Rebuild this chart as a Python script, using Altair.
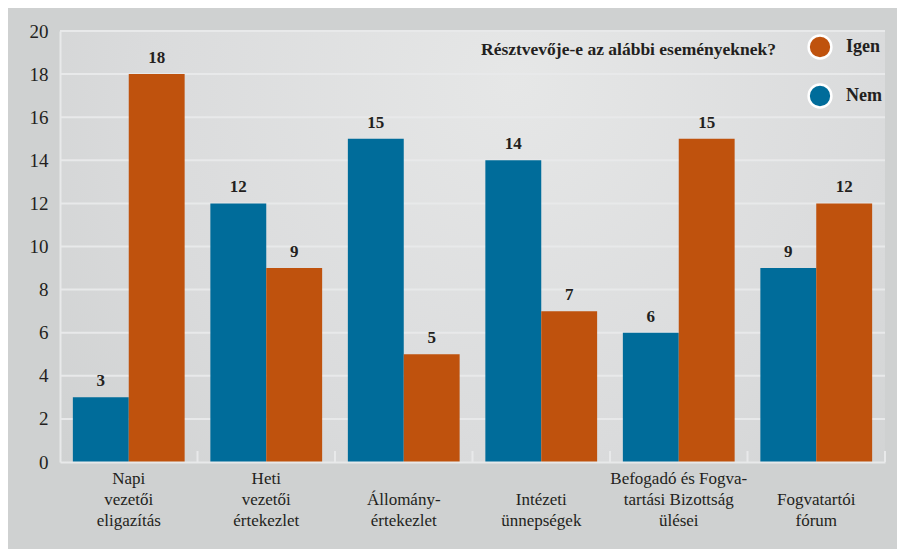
import altair as alt
import pandas as pd

categories = [
    "Napi|vezetői|eligazítás",
    "Heti|vezetői|értekezlet",
    "Állomány-|értekezlet",
    "Intézeti|ünnepségek",
    "Befogadó és Fogva-|tartási Bizottság|ülései",
    "Fogvatartói|fórum",
]
nem = [3, 12, 15, 14, 6, 9]
igen = [18, 9, 5, 7, 15, 12]
answers = ["Nem", "Igen"]
y_ticks = [0, 2, 4, 6, 8, 10, 12, 14, 16, 18, 20]

BLUE = "#006C9A"
ORANGE = "#BF520D"
GRID = "#e8e9ea"
TEXT = "#231f20"
FONT = "Liberation Serif"

rows = []
for c, n, i in zip(categories, nem, igen):
    rows.append({"cat": c, "answer": "Nem", "value": n})
    rows.append({"cat": c, "answer": "Igen", "value": i})
df = pd.DataFrame(rows)
cat_df = pd.DataFrame({"cat": categories})
grid_df = pd.DataFrame({"v": y_ticks[1:]})

x_axis = alt.Axis(
    title=None, labelAngle=0, ticks=False,
    labelExpr="length(split(datum.label, '|')) < 3 ? split('|' + datum.label, '|') : split(datum.label, '|')",
    labelBaseline="top", labelPadding=8, labelFontSize=17, labelLineHeight=21,
    labelFont=FONT, labelColor=TEXT, domainColor=GRID, domainWidth=2, grid=False,
    labelLimit=300, zindex=1,
)
x_scale = alt.Scale(paddingInner=0, paddingOuter=0)
y_scale = alt.Scale(domain=[0, 20])
y_axis = alt.Axis(
    title=None, values=y_ticks, ticks=False, labelPadding=12, labelFontSize=19,
    labelFont=FONT, labelColor=TEXT, domainColor=GRID, domainWidth=2,
    grid=False, zindex=1,
)
y_enc = alt.Y("value:Q", scale=y_scale, axis=y_axis)
xoff = alt.XOffset("answer:N", sort=answers, scale=alt.Scale(paddingOuter=0.23, paddingInner=0))

bg = alt.Chart(pd.DataFrame({"a": [0]})).mark_rect(
    fill=alt.RadialGradient(
        gradient="radial", x1=0.55, y1=0.3, r1=0, x2=0.55, y2=0.3, r2=0.75,
        stops=[
            alt.GradientStop(offset=0, color="#e6e7e7"),
            alt.GradientStop(offset=0.6, color="#dadbdc"),
            alt.GradientStop(offset=1, color="#ced0d0"),
        ],
    )
)
grid = alt.Chart(grid_df).mark_rule(color=GRID, strokeWidth=2).encode(
    y=alt.Y("v:Q", scale=y_scale, axis=y_axis)
)

base = alt.Chart(df)
bars = base.mark_bar().encode(
    x=alt.X("cat:N", sort=categories, scale=x_scale, axis=x_axis),
    xOffset=xoff,
    y=y_enc,
    color=alt.Color(
        "answer:N",
        scale=alt.Scale(domain=["Igen", "Nem"], range=[ORANGE, BLUE]),
        legend=alt.Legend(
            title="Résztvevője-e az alábbi eseményeknek?",
            orient="top-right", offset=3, titleOrient="left", titleAnchor="start",
            titleFont=FONT, titleFontSize=17.5, titleFontWeight="bold", titleColor=TEXT,
            titlePadding=30, titleBaseline="line-top", titleLineHeight=32, titleLimit=500,
            labelFont=FONT, labelFontSize=18, labelFontWeight="bold", labelColor=TEXT,
            symbolType="circle", symbolSize=520, symbolStrokeColor="white",
            symbolStrokeWidth=2.5, symbolOpacity=1, rowPadding=15, labelOffset=13,
        ),
    ),
)
labels = base.mark_text(
    font=FONT, fontSize=17, fontWeight="bold", color=TEXT, baseline="bottom", dy=-7
).encode(
    x=alt.X("cat:N", sort=categories, scale=x_scale, axis=x_axis),
    xOffset=xoff,
    y=y_enc,
    text="value:Q",
)
ticks = alt.Chart(cat_df).mark_rule(color=GRID, strokeWidth=2).encode(
    x=alt.X("cat:N", sort=categories, scale=x_scale, axis=x_axis, bandPosition=1),
    y=alt.value(431),
    y2=alt.value(420),
)

chart = (
    alt.layer(bg, grid, ticks, bars, labels)
    .properties(
        width=825, height=431,
        autosize=alt.AutoSizeParams(type="none"),
        padding={"left": 52, "top": 23, "right": 12, "bottom": 87},
        background="#cfd1d1",
    )
    .configure_view(stroke=None)
)
chart.save("out.html", embed_options={"renderer": "svg", "actions": False})
